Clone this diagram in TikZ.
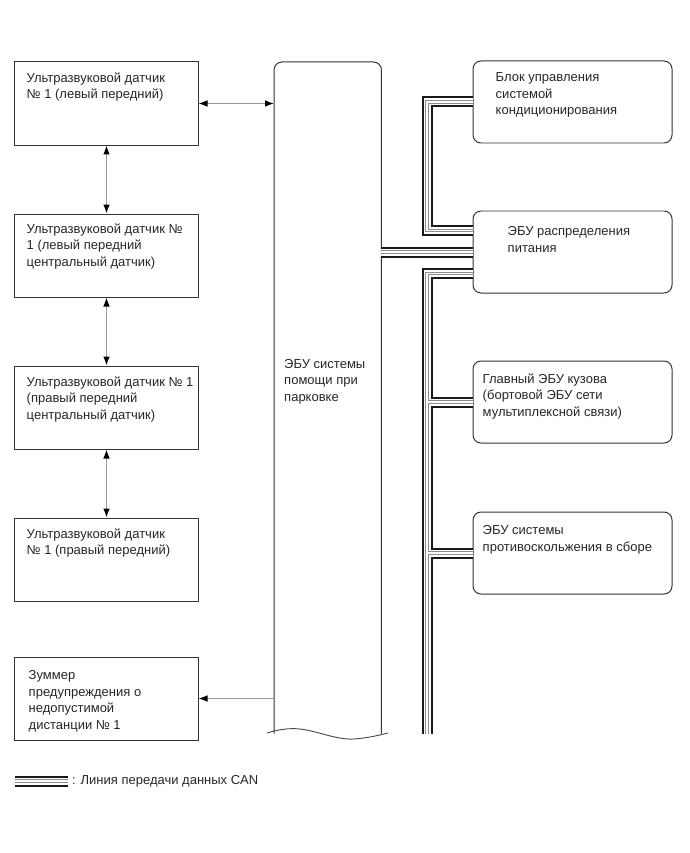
\documentclass[tikz,border=0pt]{standalone}
\usepackage{fontspec}
\setmainfont{Liberation Sans}
\usetikzlibrary{arrows.meta,positioning}

\begin{document}
\begin{tikzpicture}[x=0.03cm, y=-0.03cm,
      sensor/.style={rectangle, draw=black!80, line width=0.85pt, inner sep=0,
        minimum width=5.49cm, minimum height=2.49cm},
      unit/.style={sensor, rounded corners=0.24cm,
        minimum width=5.97cm, minimum height=2.46cm},
      txt/.style={anchor=north west, inner sep=0, align=left, text=black!85,
        font=\fontsize{11.1}{14.1}\selectfont},
      arr/.style={draw=black!40, line width=1pt,
        -{Latex[length=0.27cm, width=0.2cm, black]}},
      darr/.style={arr, {Latex[length=0.27cm, width=0.2cm, black]}-{Latex[length=0.27cm, width=0.2cm, black]}},
      canouter/.style={line width=0.33cm, black!90},
      caninner/.style={line width=0.21cm, white},
      cancore/.style={line width=0.11cm, black!45},
      cangap/.style={line width=0.035cm, white}
    ]
    \useasboundingbox (0,0) rectangle (689,853);

    % --- ultrasonic sensors and buzzer (left column) ---
    \node[sensor, label={[txt, xshift=0.36cm, yshift=-0.33cm]north west:Ультразвуковой датчик\\№ 1 (левый передний)}] (us1) at (106.5,103.5) {};
    \node[sensor, below=2.04cm of us1, label={[txt, xshift=0.36cm, yshift=-0.3cm]north west:Ультразвуковой датчик №\\1 (левый передний\\центральный датчик)}] (us2) {};
    \node[sensor, below=2.04cm of us2, label={[txt, xshift=0.36cm, yshift=-0.33cm]north west:Ультразвуковой датчик № 1\\(правый передний\\центральный датчик)}] (us3) {};
    \node[sensor, below=2.04cm of us3, label={[txt, xshift=0.36cm, yshift=-0.33cm]north west:Ультразвуковой датчик\\№ 1 (правый передний)}] (us4) {};
    \node[sensor, below=1.65cm of us4, label={[txt, xshift=0.42cm, yshift=-0.42cm]north west:Зуммер\\предупреждения о\\недопустимой\\дистанции № 1}] (buzz) {};

    % --- parking assist ECU (broken at the bottom) ---
    \node[anchor=north west, inner sep=0, minimum width=3.21cm, minimum height=20.13cm,
      label={[txt, xshift=0.3cm, yshift=-8.91cm]north west:ЭБУ системы\\помощи при\\парковке}] (ecu) at (274,62) {};
    \draw[black!80, line width=0.85pt, rounded corners=0.24cm]
      (ecu.south west) -- (ecu.north west) -- (ecu.north east) -- (ecu.south east);
    \draw[black!70, line width=0.8pt] (267,733) .. controls (280,729) and (290,728) .. (300,729)
      .. controls (318,731) and (336,740) .. (354,739) .. controls (368,738) and (380,735) .. (388,733);

    % --- other units (right column) ---
    \node[unit, label={[txt, xshift=0.69cm, yshift=-0.36cm]north west:Блок управления\\системой\\кондиционирования}] (acu) at (572.5,102) {};
    \node[unit, below=2.01cm of acu, label={[txt, xshift=1.05cm, yshift=-0.48cm]north west:ЭБУ распределения\\питания}] (pdu) {};
    \node[unit, below=2.01cm of pdu, label={[txt, xshift=0.3cm, yshift=-0.39cm]north west:Главный ЭБУ кузова\\(бортовой ЭБУ сети\\мультиплексной связи)}] (bcm) {};
    \node[unit, below=2.04cm of bcm, label={[txt, xshift=0.3cm, yshift=-0.42cm]north west:ЭБУ системы\\противоскольжения в сборе}] (vsc) {};

    % --- signal lines ---
    \draw[darr] (us1.east) -- (us1.east -| ecu.west);
    \draw[darr] (us1.south) -- (us2.north);
    \draw[darr] (us2.south) -- (us3.north);
    \draw[darr] (us3.south) -- (us4.north);
    \draw[arr] (ecu.west |- buzz.east) -- (buzz.east);

    % --- CAN bus, drawn layer by layer ---
    \coordinate (busend) at (427,734);
    \coordinate (leg1) at (15,781);
    \coordinate (leg2) at (68,781);
    \foreach \layer in {canouter,caninner,cancore,cangap} {
      \draw[\layer] (acu.west) -| ([yshift=0.645cm]pdu.west -| busend) -- ([yshift=0.645cm]pdu.west);
      \draw[\layer] (ecu.east |- pdu.west) -- (pdu.west);
      \draw[\layer] ([yshift=-0.645cm]pdu.west) -| (busend);
      \draw[\layer] (bcm.west -| busend) -- (bcm.west);
      \draw[\layer] (vsc.west -| busend) -- (vsc.west);
      \draw[\layer] (leg1) -- (leg2);
    }

    % --- legend ---
    \node[txt, anchor=west, right=0.12cm of leg2] (legtxt) {: Линия передачи данных CAN};
  \end{tikzpicture}
\end{document}
